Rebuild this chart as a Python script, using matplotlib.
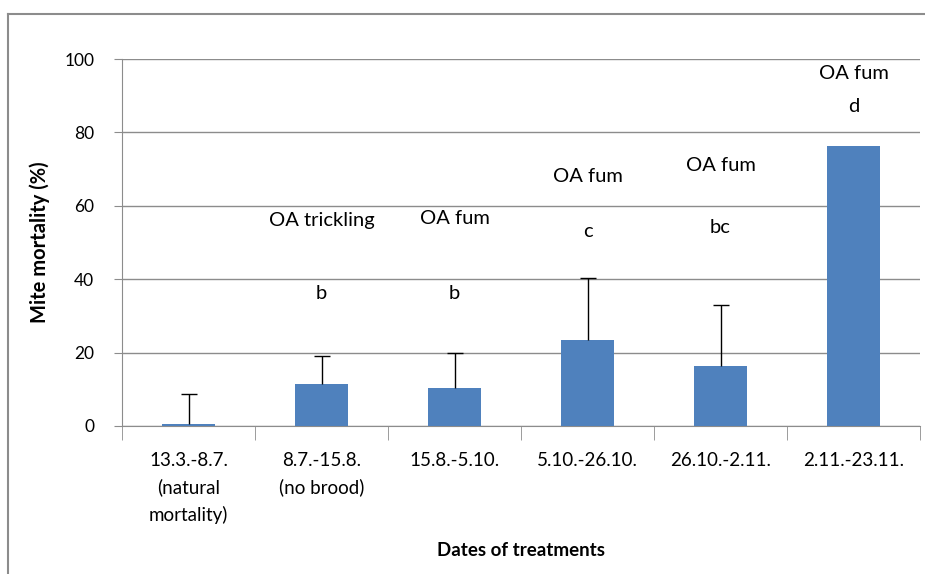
import matplotlib
matplotlib.use("Agg")
import matplotlib.pyplot as plt
from matplotlib.lines import Line2D
import numpy as np

categories = ["13.3.-8.7.\n(natural\nmortality)", "8.7.-15.8.\n(no brood)", "15.8.-5.10.",
              "5.10.-26.10.", "26.10.-2.11.", "2.11.-23.11."]
mortality = [0.5, 11.4, 10.4, 23.4, 16.3, 76.3]
err_upper = [8.3, 7.7, 9.5, 16.9, 16.7, 0.0]
treatments = ["", "OA trickling", "OA fum", "OA fum", "OA fum", "OA fum"]
groups = ["", "b", "b", "c", "bc", "d"]
treat_y = [None, 56, 56.5, 68, 71, 96]
group_y = [None, 36, 36, 53, 54, 87]

font = "Lato"
plt.rcParams['font.family'] = [font, 'DejaVu Sans']

fig = plt.figure(figsize=(9.25, 5.74), dpi=100)
ax = fig.add_axes([122/925, 1-426/574, (920-122)/925, (426-59)/574])

x = np.arange(len(categories))
ax.bar(x, mortality, width=0.4, color="#4F81BD", zorder=3)
yerr = np.array([np.zeros(len(err_upper)), err_upper])
mask = np.array(err_upper) > 0
eb = ax.errorbar(x[mask], np.array(mortality)[mask], yerr=yerr[:, mask], fmt="none",
                 ecolor="black", elinewidth=1, capsize=6, capthick=1, zorder=4)
# hide the lower caps (only upward error bars in the original)
caplines = eb[1]
if len(caplines) == 2:
    caplines[0].set_visible(False)

ax.set_xlim(-0.5, len(categories) - 0.5)
ax.set_ylim(0, 100)
ax.set_yticks(np.arange(0, 101, 20))
ax.yaxis.grid(True, color="#8c8c8c", linewidth=1, zorder=0)
ax.set_axisbelow(True)
for s in ["top", "right"]:
    ax.spines[s].set_visible(False)
ax.spines["left"].set_color("#8c8c8c")
ax.spines["bottom"].set_color("#8c8c8c")

ax.set_xticks(x)
ax.set_xticklabels(categories, fontsize=13.5, linespacing=1.62, va="top")
ax.tick_params(axis="x", length=0, pad=19)
ax.set_xticks(np.arange(-0.5, len(categories)), minor=True)
ax.tick_params(axis="x", which="minor", length=10, color="#8c8c8c")
ax.tick_params(axis="y", length=6, color="#8c8c8c", labelsize=12.5, pad=14)

for i in range(len(categories)):
    if treatments[i]:
        ax.text(x[i], treat_y[i], treatments[i], ha="center", va="center", fontsize=14.5)
        ax.text(x[i], group_y[i], groups[i], ha="center", va="center", fontsize=14.5)

ax.set_ylabel("Mite mortality (%)", fontsize=14.5, fontweight="bold", labelpad=10)
ax.set_xlabel("Dates of treatments", fontsize=13.5, fontweight="bold", labelpad=13)

# outer chart frame
fig.add_artist(Line2D([8/925, 8/925], [0, 1-14/574], transform=fig.transFigure,
                      color="#8c8c8c", linewidth=1.5))
fig.add_artist(Line2D([8/925, 1], [1-14/574, 1-14/574], transform=fig.transFigure,
                      color="#8c8c8c", linewidth=1.5))

fig.savefig("out.png", dpi=100)
